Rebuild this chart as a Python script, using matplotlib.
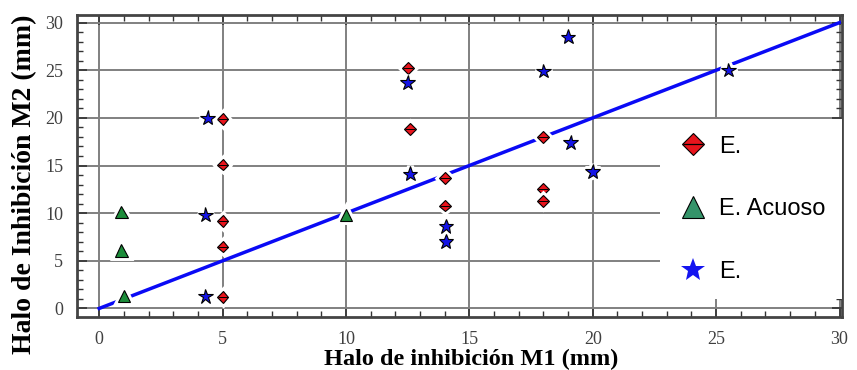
import matplotlib
matplotlib.use("Agg")
import matplotlib.pyplot as plt
from matplotlib.ticker import MultipleLocator
import matplotlib.patheffects as pe

# E. (red diamonds)
red_x = [5, 5, 5, 5, 5, 12.5, 12.6, 14, 14, 18, 18, 18]
red_y = [19.9, 15.1, 9.2, 6.5, 1.2, 25.2, 18.8, 13.7, 10.8, 18.0, 12.5, 11.3]

# E. Acuoso (green triangles)
green_x = [0.9, 0.9, 1.0, 10.0]
green_y = [10.1, 6.1, 1.3, 9.8]

# E. (blue stars)
blue_x = [4.4, 4.3, 4.3, 12.5, 12.6, 14.05, 14.05, 19.0, 18.0, 19.1, 20.0, 25.5]
blue_y = [20.0, 9.8, 1.25, 23.7, 14.1, 8.6, 7.0, 28.5, 24.9, 17.4, 14.35, 25.0]

line_x = [0, 30]
line_y = [0, 30]

labels = ["E.", "E. Acuoso", "E."]

fig = plt.figure(figsize=(8.57, 3.70), dpi=100)
ax = fig.add_axes([0.0898, 0.1432, 0.8927, 0.8163])

halo = [pe.withStroke(linewidth=5, foreground="white")]

ax.plot(line_x, line_y, color="#0a0af5", lw=2.5, zorder=2)

ax.plot(red_x, red_y, ls="none", marker="D", ms=6, mfc="#e8141c",
        mec="black", mew=0.8, zorder=4, path_effects=halo)
ax.plot(red_x, red_y, ls="none", marker="_", ms=7.5, mec="black",
        mew=0.7, zorder=5)
ax.plot(green_x, green_y, ls="none", marker="^", ms=9, mfc="#1c8c3a",
        mec="black", mew=0.8, zorder=4, path_effects=halo)
ax.plot(blue_x, blue_y, ls="none", marker="*", ms=11, mfc="#1414e6",
        mec="black", mew=0.8, zorder=4, path_effects=halo)

ax.set_xlim(-0.9, 30.1)
ax.set_ylim(-0.9, 30.8)
ax.xaxis.set_major_locator(MultipleLocator(5))
ax.yaxis.set_major_locator(MultipleLocator(5))
ax.xaxis.set_minor_locator(MultipleLocator(1))
ax.yaxis.set_minor_locator(MultipleLocator(1))
ax.grid(True, which="major", color="#808080", lw=1.4, zorder=0)
ax.set_axisbelow(True)

ax.tick_params(which="both", direction="in", top=True, right=True,
               colors="#333333", labelcolor="#404040")
ax.tick_params(which="major", length=7, width=1.2, labelsize=13, pad=10)
ax.tick_params(which="minor", length=4, width=1.0)
for lab in ax.get_xticklabels() + ax.get_yticklabels():
    lab.set_family("Liberation Serif")
for sp in ax.spines.values():
    sp.set_color("#444444")
    sp.set_linewidth(2)

ax.set_xlabel("Halo de inhibición M1 (mm)", family="Liberation Serif",
              fontweight="bold", fontsize=17.5)
ax.xaxis.set_label_coords(0.515, -0.105)
ax.set_ylabel("Halo de Inhibición M2 (mm)", family="Liberation Serif",
              fontweight="bold", fontsize=20)
ax.yaxis.set_label_coords(-0.052, 0.44)

leg_tri, = ax.plot([], [], ls="none", marker="^", ms=16, mfc="#35946a",
                   mec="black", mew=0.8)
leg_star, = ax.plot([], [], ls="none", marker="*", ms=18, mfc="#1414f0",
                    mec="#1414f0", mew=0)
leg_d, = ax.plot([], [], ls="none", marker="D", ms=11, mfc="#e8141c",
                 mec="black", mew=0.8)
leg_h, = ax.plot([], [], ls="none", marker="_", ms=15, mec="black", mew=0.9)
leg = ax.legend([(leg_d, leg_h), leg_tri, leg_star], labels,
                loc="upper right", bbox_to_anchor=(1.0, 0.655),
                prop={"family": "Liberation Sans", "size": 17},
                frameon=True, fancybox=False, framealpha=1, edgecolor="none",
                facecolor="white", borderaxespad=0, labelspacing=1.72,
                handlelength=1.4, handletextpad=0.42, borderpad=0.7)
leg.set_zorder(6)

fig.savefig("out.png", dpi=100)
